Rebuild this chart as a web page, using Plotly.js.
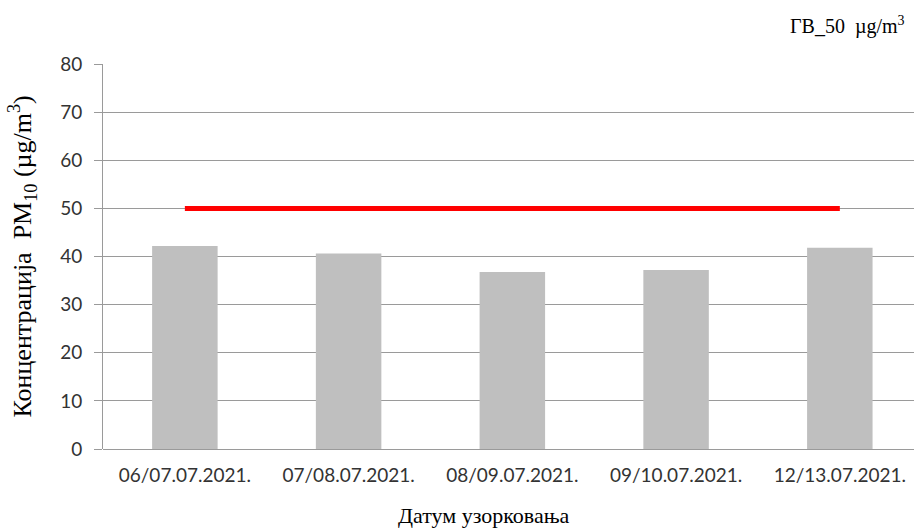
<!DOCTYPE html>
<html>
<head>
<meta charset="utf-8">
<script src="https://cdn.plot.ly/plotly-3.0.1.min.js"></script>
<style>
  body { margin: 0; background: #fff; }
  #graph { width: 914px; height: 530px; }
</style>
</head>
<body>
<div id="graph"></div>
<script>
// podaci sa grafika
const datumi = ['06/07.07.2021.', '07/08.07.2021.', '08/09.07.2021.', '09/10.07.2021.', '12/13.07.2021.'];
const koncentracija = [42.2, 40.6, 36.8, 37.2, 41.8];
const granicnaVrednost = [50, 50, 50, 50, 50];

const graph = document.getElementById('graph');

const serif = 'Liberation Serif, Times New Roman, serif';
const sans = 'Lato, Open Sans, sans-serif';

const layout = {
    width: 914,
    height: 530,
    margin: {l: 103, r: 0, t: 64, b: 81},
    paper_bgcolor: '#ffffff',
    plot_bgcolor: '#ffffff',
    showlegend: false,
    xaxis: {
        type: 'category',
        range: [-0.5, 4.453],
        showgrid: false,
        zeroline: false,
        showline: false,
        ticks: '',
        ticklabelstandoff: 13,
        tickfont: {family: sans, size: 19, color: '#333'}
    },
    yaxis: {
        range: [0, 80],
        dtick: 10,
        showgrid: true,
        gridcolor: '#9a9a9a',
        gridwidth: 1,
        zeroline: true,
        zerolinecolor: '#9a9a9a',
        zerolinewidth: 1,
        showline: true,
        linecolor: '#9a9a9a',
        linewidth: 1,
        ticks: 'outside',
        ticklen: 8,
        tickcolor: '#9a9a9a',
        ticklabelstandoff: 8,
        tickfont: {family: sans, size: 19, color: '#333'}
    },
    annotations: [
        {
            // naslov y ose
            text: 'Концентрација  PM<sub>10</sub> (µg/m<sup>3</sup>)',
            xref: 'paper', yref: 'paper',
            x: -81 / 811, y: 0.5,
            xanchor: 'center', yanchor: 'middle',
            textangle: -90,
            showarrow: false,
            font: {family: serif, size: 26, color: '#000'}
        },
        {
            // naslov x ose
            text: 'Датум узорковања',
            xref: 'paper', yref: 'paper',
            x: (484 - 103) / 811, y: -0.174,
            xanchor: 'center', yanchor: 'middle',
            showarrow: false,
            font: {family: serif, size: 22, color: '#000'}
        },
        {
            text: 'ГВ_50  µg/m<sup>3</sup>',
            xref: 'paper', yref: 'paper',
            x: (907 - 103) / 811, y: 1.1,
            xanchor: 'right', yanchor: 'middle',
            showarrow: false,
            font: {family: serif, size: 20, color: '#000'}
        }
    ]
};

const config = {responsive: false, displayModeBar: false};

Plotly.newPlot(graph, [
    {
        type: 'bar',
        x: datumi,
        y: koncentracija,
        width: 0.4,
        marker: {color: '#bfbfbf'},
        hoverinfo: 'x+y'
    },
    {
        type: 'scatter',
        mode: 'lines',
        x: datumi,
        y: granicnaVrednost,
        line: {color: '#ff0000', width: 5},
        hoverinfo: 'y'
    }
], layout, config);
</script>
</body>
</html>
